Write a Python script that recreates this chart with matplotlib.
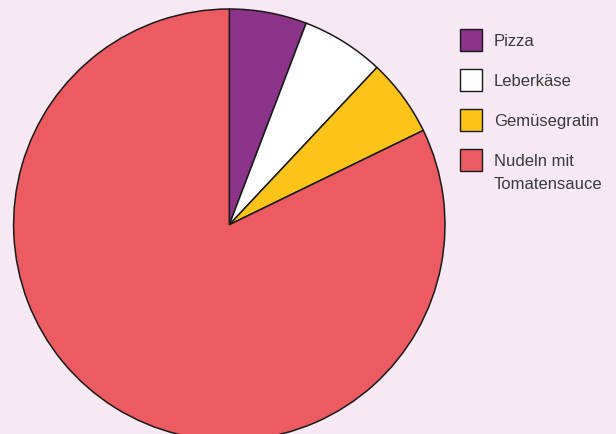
import matplotlib.pyplot as plt
from matplotlib.patches import Rectangle

labels = ["Pizza", "Leberkäse", "Gemüsegratin", "Nudeln mit\nTomatensauce"]
values = [5.8, 6.2, 5.8, 82.2]
colors = ["#8b3289", "#ffffff", "#fcc418", "#ec5b62"]

bg = "#f6e9f4"
fig = plt.figure(figsize=(6.16, 4.35), dpi=100, facecolor=bg)
ax = fig.add_axes([0, 0, 1, 1])
ax.set_facecolor(bg)

# pixel coordinates, y going up
ax.pie(values, colors=colors, startangle=90, counterclock=False,
       center=(229.3, 435 - 225.7), radius=215.7,
       wedgeprops=dict(edgecolor="#1a1a1a", linewidth=1.1))
ax.set_xlim(0, 616)
ax.set_ylim(0, 435)
ax.set_aspect("equal")
ax.axis("off")

# legend drawn by hand: square + label, 40px apart
for i, (lab, col) in enumerate(zip(labels, colors)):
    yc = 435 - (41 + 40 * i)
    ax.add_patch(Rectangle((459.5, yc - 11), 22, 22, facecolor=col,
                           edgecolor="#1a1a1a", linewidth=1.0))
    ax.text(494, yc + 7, lab, va="top", ha="left", fontsize=12,
            family="Liberation Sans", color="#3a3a3a", linespacing=1.7)

fig.savefig("out.png", dpi=100, facecolor=bg)
